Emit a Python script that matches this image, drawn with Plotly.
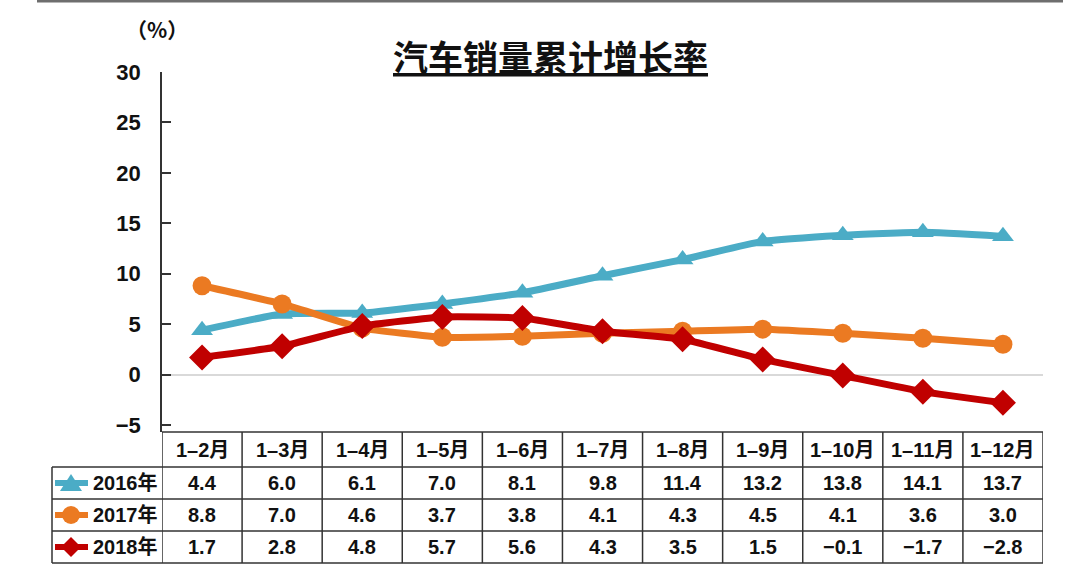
import plotly.graph_objects as go

categories = ["1-2月", "1-3月", "1-4月", "1-5月", "1-6月", "1-7月", "1-8月", "1-9月", "1-10月", "1-11月", "1-12月"]
series_names = ["2016年", "2017年", "2018年"]
values_2016 = [4.4, 6.0, 6.1, 7.0, 8.1, 9.8, 11.4, 13.2, 13.8, 14.1, 13.7]
values_2017 = [8.8, 7.0, 4.6, 3.7, 3.8, 4.1, 4.3, 4.5, 4.1, 3.6, 3.0]
values_2018 = [1.7, 2.8, 4.8, 5.7, 5.6, 4.3, 3.5, 1.5, -0.1, -1.7, -2.8]
y_ticks = [-5, 0, 5, 10, 15, 20, 25, 30]

series = [values_2016, values_2017, values_2018]
colors = ["#4BACC6", "#EB7A22", "#C00000"]
symbols = ["triangle-up", "circle", "diamond"]
msizes = [19, 19, 20]

W, H = 1080, 574
ML, MR, MT, MB = 162, 37, 72, 142
PW, PH = W - ML - MR, H - MT - MB


def px2x(p):
    return (p - ML) / PW


def py2y(p):
    return (H - MB - p) / PH


LAT = "Liberation Sans, Arial, Noto Sans CJK SC"
CJK = "Noto Sans CJK SC, Liberation Sans"

fig = go.Figure()
for name, vals, col, sym, ms in zip(series_names, series, colors, symbols, msizes):
    fig.add_trace(go.Scatter(
        x=categories, y=vals, name=name, mode="lines+markers",
        line=dict(color=col, width=7, shape="spline", smoothing=0.4),
        marker=dict(symbol=sym, size=ms, color=col),
        showlegend=False, cliponaxis=False,
    ))

fig.update_layout(
    width=W, height=H,
    margin=dict(l=ML, r=MR, t=MT, b=MB),
    paper_bgcolor="white", plot_bgcolor="white",
    xaxis=dict(type="category", range=[-0.5, len(categories) - 0.5],
               showticklabels=False, showgrid=False, zeroline=False, showline=False),
    yaxis=dict(range=[-5.7, 30], tickvals=y_ticks, ticks="inside", ticklen=9,
               tickwidth=1.5, tickcolor="#333", showline=True, linecolor="#333",
               linewidth=1.5, showgrid=False, zeroline=True, zerolinecolor="#D9D9D9",
               zerolinewidth=1.5, ticklabelstandoff=15,
               tickfont=dict(family=LAT, size=22, color="#111", weight="bold")),
    font=dict(family=LAT, color="#111"),
)

shapes = []
ann = []
line_style = dict(color="#333", width=1.5)

# top gray rule
shapes.append(dict(type="rect", xref="paper", yref="paper",
                   x0=px2x(37), x1=px2x(1063), y0=py2y(0), y1=py2y(2.5),
                   fillcolor="#6E6E6E", line=dict(width=0), layer="above"))

# title and unit
ann.append(dict(text="<u>汽车销量累计增长率</u>", xref="paper", yref="paper",
                x=px2x(550), y=py2y(56), showarrow=False, xanchor="center", yanchor="middle",
                font=dict(family=CJK, size=35, color="#111", weight="bold")))
ann.append(dict(text="（%）", xref="paper", yref="paper",
                x=px2x(157), y=py2y(29), showarrow=False, xanchor="center", yanchor="middle",
                font=dict(family=CJK, size=21, color="#111", weight="bold")))

# table geometry (pixel rows)
header_top, header_bot = 432, 467
row_edges = [467, 499, 531, 563]
leg_left = 52

# horizontal lines
shapes.append(dict(type="line", xref="paper", yref="paper", x0=0, x1=1,
                   y0=py2y(header_top), y1=py2y(header_top), line=line_style))
for r in row_edges:
    shapes.append(dict(type="line", xref="paper", yref="paper", x0=px2x(leg_left), x1=1,
                       y0=py2y(r), y1=py2y(r), line=line_style))
# vertical lines
for i in range(len(categories) + 1):
    shapes.append(dict(type="line", xref="x", yref="paper", x0=i - 0.5, x1=i - 0.5,
                       y0=py2y(header_top), y1=py2y(row_edges[-1]), line=line_style))
shapes.append(dict(type="line", xref="paper", yref="paper", x0=px2x(leg_left), x1=px2x(leg_left),
                   y0=py2y(row_edges[0]), y1=py2y(row_edges[-1]), line=line_style))

cell_font = dict(family=LAT + ", Noto Sans CJK SC", size=20, color="#111", weight="bold")
hdr_mid = (header_top + header_bot) / 2
for c in categories:
    ann.append(dict(text=c.replace("-", "\u2013"), xref="x", yref="paper", x=c, y=py2y(hdr_mid),
                    showarrow=False, xanchor="center", yanchor="middle", font=cell_font))

for k, (name, vals, col, sym) in enumerate(zip(series_names, series, colors, symbols)):
    mid = (row_edges[k] + row_edges[k + 1]) / 2
    for c, v in zip(categories, vals):
        ann.append(dict(text=f"{v:.1f}".replace("-", "\u2212"), xref="x", yref="paper", x=c,
                        y=py2y(mid), showarrow=False, xanchor="center", yanchor="middle",
                        font=cell_font))
    ann.append(dict(text=name, xref="paper", yref="paper", x=px2x(91), y=py2y(mid),
                    showarrow=False, xanchor="left", yanchor="middle", font=cell_font))
    # legend sample line
    shapes.append(dict(type="line", xref="paper", yref="paper", x0=px2x(55), x1=px2x(88),
                       y0=py2y(mid), y1=py2y(mid), line=dict(color=col, width=6)))
    cx = 71
    if sym == "circle":
        shapes.append(dict(type="circle", xref="paper", yref="paper",
                           x0=px2x(cx - 9), x1=px2x(cx + 9),
                           y0=py2y(mid - 9), y1=py2y(mid + 9),
                           fillcolor=col, line=dict(width=0)))
    else:
        if sym == "triangle-up":
            pts = [(cx, mid - 9), (cx + 11, mid + 8), (cx - 11, mid + 8)]
        else:
            pts = [(cx, mid - 10), (cx + 10, mid), (cx, mid + 10), (cx - 10, mid)]
        path = "M " + " L ".join(f"{px2x(a):.5f},{py2y(b):.5f}" for a, b in pts) + " Z"
        shapes.append(dict(type="path", xref="paper", yref="paper", path=path,
                           fillcolor=col, line=dict(width=0)))

fig.update_layout(shapes=shapes, annotations=ann)
fig.write_html("out.html", config={"displayModeBar": False},
               post_script="document.body.style.margin='0';")
